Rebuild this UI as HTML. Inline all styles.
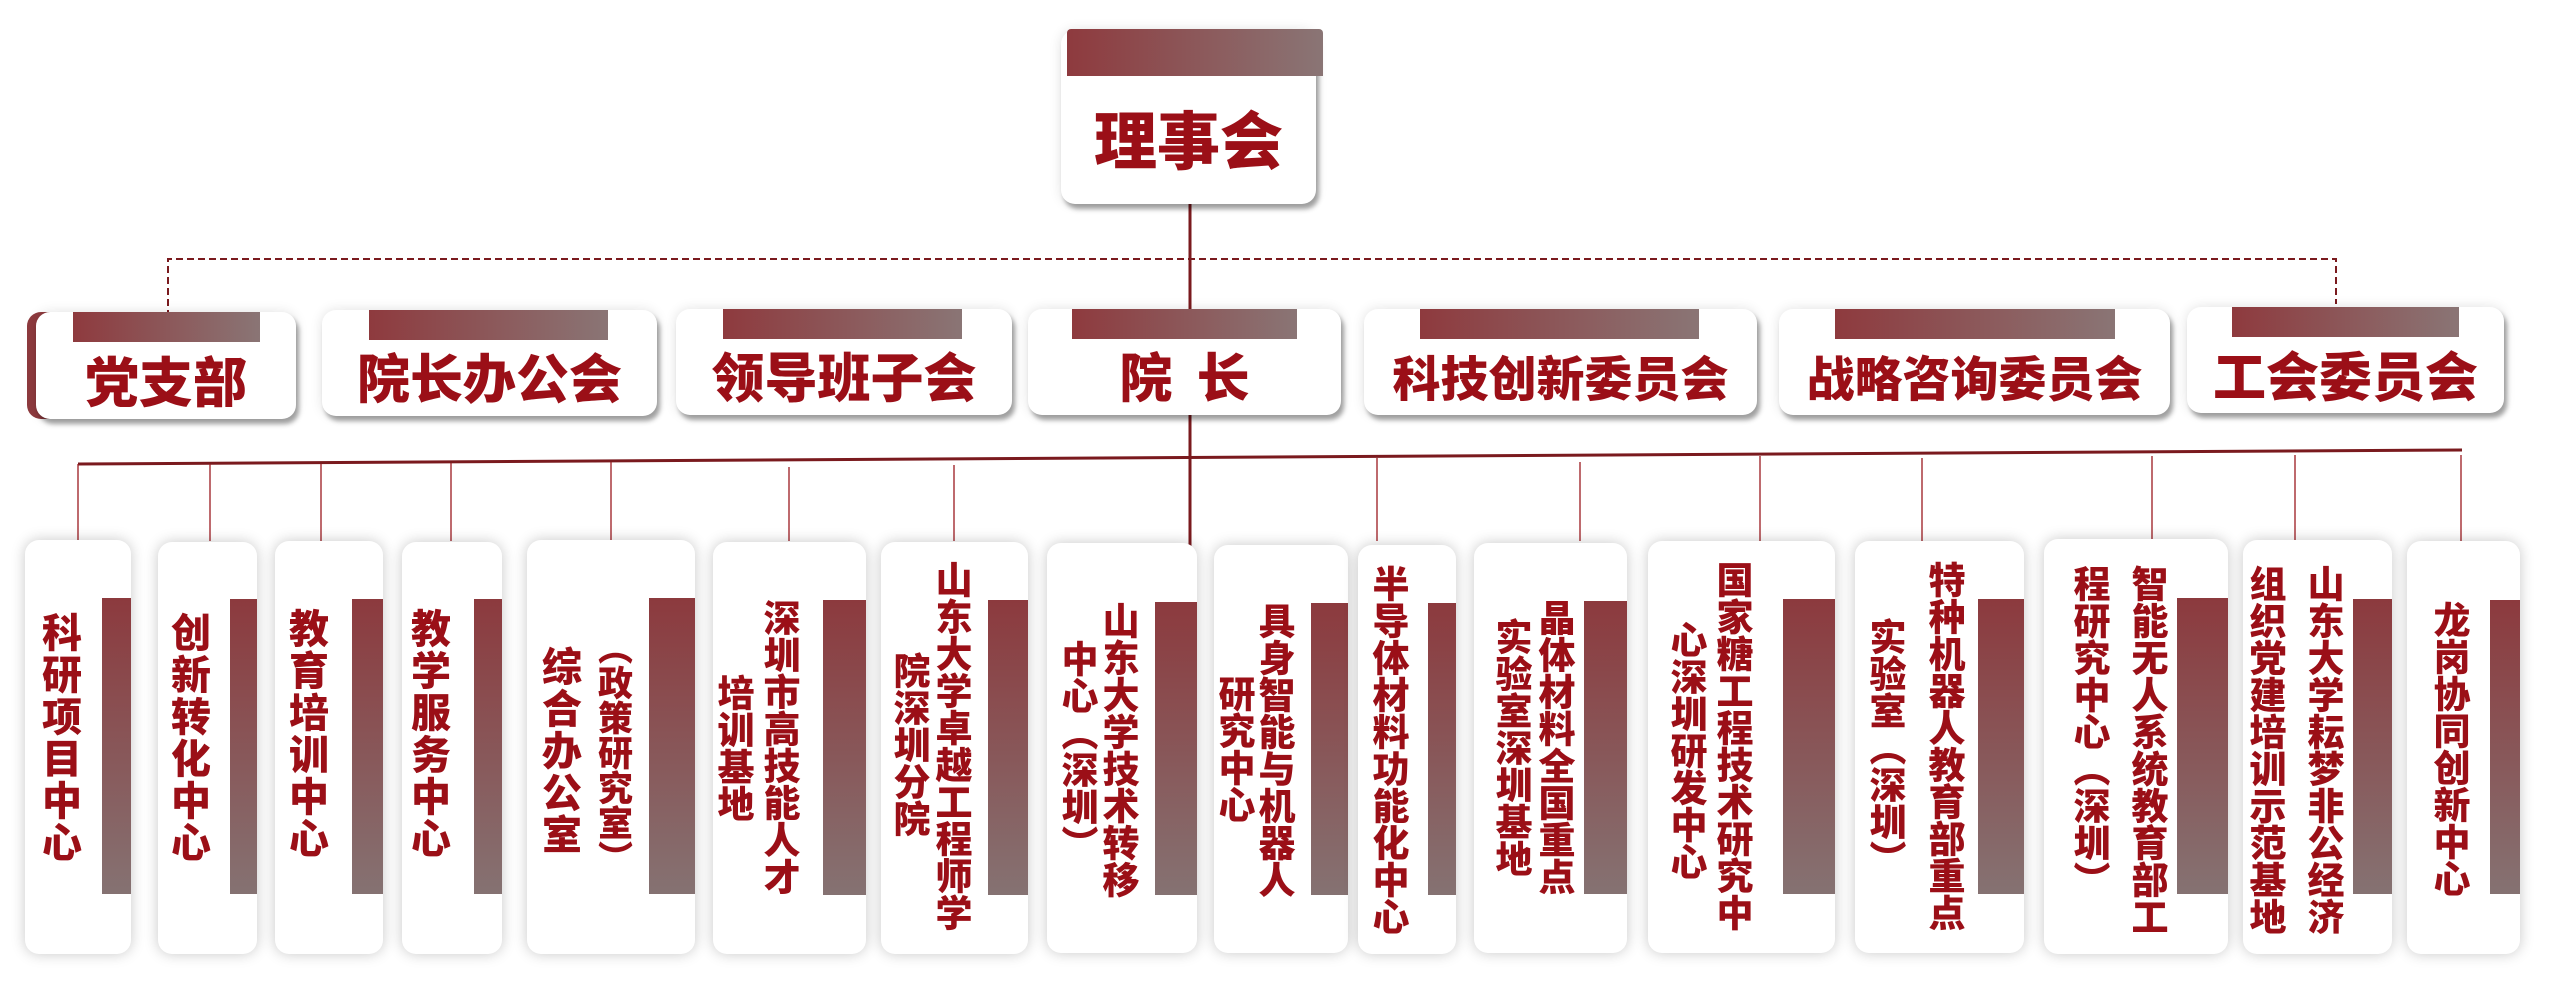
<!DOCTYPE html>
<html><head><meta charset="utf-8">
<style>
*{margin:0;padding:0;box-sizing:border-box}
body{width:2549px;height:984px;background:#fff;position:relative;overflow:hidden;font-family:"Noto Sans CJK SC","Liberation Sans",sans-serif;font-weight:900;color:#9b0f17}
.b{position:absolute;background:#fff;border-radius:14px;box-shadow:0 0 14px rgba(0,0,0,.22)}
.m{position:absolute;background:#fff;border-radius:14px;box-shadow:3px 5px 5px rgba(0,0,0,.35),0 0 12px rgba(0,0,0,.12)}
.hb{position:absolute;background:linear-gradient(90deg,#8e3a3e,#8a7575)}
.vb{position:absolute;background:linear-gradient(180deg,#8c3a3e,#857272)}
.t{position:absolute;white-space:nowrap;text-align:center;line-height:1}
.v{position:absolute;writing-mode:vertical-rl;line-height:1;white-space:nowrap;font-size:37px;width:37px}
</style></head><body>
<svg width="2549" height="984" style="position:absolute;left:0;top:0">
<line x1="1190" y1="204" x2="1190" y2="310" stroke="#7a1a1e" stroke-width="3"/>
<line x1="1190" y1="414" x2="1190" y2="546" stroke="#7a1a1e" stroke-width="3"/>
<polyline points="168,317 168,259 2336,259 2336,304" fill="none" stroke="#7a1a1e" stroke-width="2" stroke-dasharray="7,4"/>
<line x1="78" y1="464" x2="2462" y2="450" stroke="#7a1a1e" stroke-width="3"/>
<g stroke="#9b1a20" stroke-width="1.3">
<line x1="78" y1="464" x2="78" y2="541"/>
<line x1="210" y1="464" x2="210" y2="541"/>
<line x1="321" y1="464" x2="321" y2="541"/>
<line x1="451" y1="463" x2="451" y2="541"/>
<line x1="611" y1="462" x2="611" y2="541"/>
<line x1="789" y1="467" x2="789" y2="541"/>
<line x1="954" y1="465" x2="954" y2="541"/>
<line x1="1377" y1="458" x2="1377" y2="541"/>
<line x1="1580" y1="462" x2="1580" y2="541"/>
<line x1="1760" y1="456" x2="1760" y2="541"/>
<line x1="1922" y1="458" x2="1922" y2="541"/>
<line x1="2152" y1="456" x2="2152" y2="541"/>
<line x1="2295" y1="455" x2="2295" y2="541"/>
<line x1="2461" y1="455" x2="2461" y2="541"/>
</g>
</svg>

<div class="m" style="left:1061px;top:30px;width:255px;height:174px"></div>
<div class="hb" style="left:1067px;top:29px;width:256px;height:47px;border-radius:4px 4px 0 0"></div>
<div class="t" style="left:1061px;top:106px;width:255px;font-size:63px">理事会</div>

<div style="position:absolute;left:27px;top:312px;width:30px;height:107px;background:#8e3a3e;border-radius:14px 0 0 14px"></div>
<div class="m" style="left:36px;top:312px;width:260px;height:107px"></div>
<div class="hb" style="left:73px;top:312px;width:187px;height:30px"></div>
<div class="t" style="left:36px;top:352px;width:260px;font-size:54px">党支部</div>

<div class="m" style="left:322px;top:310px;width:335px;height:106px"></div>
<div class="hb" style="left:369px;top:310px;width:239px;height:30px"></div>
<div class="t" style="left:322px;top:350px;width:335px;font-size:53px">院长办公会</div>

<div class="m" style="left:676px;top:309px;width:336px;height:106px"></div>
<div class="hb" style="left:723px;top:309px;width:239px;height:30px"></div>
<div class="t" style="left:676px;top:349px;width:336px;font-size:53px">领导班子会</div>

<div class="m" style="left:1028px;top:309px;width:313px;height:106px"></div>
<div class="hb" style="left:1072px;top:309px;width:225px;height:30px"></div>
<div class="t" style="left:1028px;top:349px;width:313px;font-size:53px">院&nbsp;&nbsp;长</div>

<div class="m" style="left:1364px;top:309px;width:393px;height:106px"></div>
<div class="hb" style="left:1420px;top:309px;width:279px;height:30px"></div>
<div class="t" style="left:1364px;top:351px;width:393px;font-size:48px">科技创新委员会</div>

<div class="m" style="left:1779px;top:309px;width:391px;height:106px"></div>
<div class="hb" style="left:1835px;top:309px;width:280px;height:30px"></div>
<div class="t" style="left:1779px;top:351px;width:391px;font-size:48px">战略咨询委员会</div>

<div class="m" style="left:2187px;top:307px;width:317px;height:106px"></div>
<div class="hb" style="left:2232px;top:307px;width:227px;height:30px"></div>
<div class="t" style="left:2187px;top:348px;width:317px;font-size:53px">工会委员会</div>

<div class="b" style="left:25px;top:540px;width:106px;height:414px"></div><div class="vb" style="left:102px;top:598px;width:29px;height:296px"></div>
<div class="b" style="left:158px;top:542px;width:99px;height:412px"></div><div class="vb" style="left:230px;top:599px;width:27px;height:295px"></div>
<div class="b" style="left:275px;top:541px;width:108px;height:413px"></div><div class="vb" style="left:352px;top:599px;width:31px;height:295px"></div>
<div class="b" style="left:402px;top:542px;width:100px;height:412px"></div><div class="vb" style="left:474px;top:599px;width:28px;height:295px"></div>
<div class="b" style="left:527px;top:540px;width:168px;height:414px"></div><div class="vb" style="left:649px;top:598px;width:46px;height:296px"></div>
<div class="b" style="left:713px;top:542px;width:153px;height:412px"></div><div class="vb" style="left:823px;top:600px;width:43px;height:295px"></div>
<div class="b" style="left:881px;top:542px;width:147px;height:412px"></div><div class="vb" style="left:988px;top:600px;width:40px;height:295px"></div>
<div class="b" style="left:1047px;top:543px;width:150px;height:410px"></div><div class="vb" style="left:1155px;top:602px;width:42px;height:293px"></div>
<div class="b" style="left:1214px;top:545px;width:134px;height:408px"></div><div class="vb" style="left:1311px;top:603px;width:37px;height:292px"></div>
<div class="b" style="left:1358px;top:545px;width:98px;height:409px"></div><div class="vb" style="left:1428px;top:603px;width:28px;height:292px"></div>
<div class="b" style="left:1474px;top:543px;width:153px;height:410px"></div><div class="vb" style="left:1584px;top:601px;width:43px;height:293px"></div>
<div class="b" style="left:1648px;top:541px;width:187px;height:412px"></div><div class="vb" style="left:1783px;top:599px;width:52px;height:295px"></div>
<div class="b" style="left:1855px;top:541px;width:169px;height:412px"></div><div class="vb" style="left:1978px;top:599px;width:46px;height:295px"></div>
<div class="b" style="left:2044px;top:539px;width:184px;height:415px"></div><div class="vb" style="left:2177px;top:598px;width:51px;height:296px"></div>
<div class="b" style="left:2243px;top:540px;width:149px;height:414px"></div><div class="vb" style="left:2353px;top:599px;width:39px;height:295px"></div>
<div class="b" style="left:2407px;top:541px;width:113px;height:413px"></div><div class="vb" style="left:2490px;top:600px;width:30px;height:294px"></div>

<div class="v" style="left:42px;top:612px;font-size:40px;width:40px;letter-spacing:2px">科研项目中心</div>
<div class="v" style="left:171px;top:612px;font-size:40px;width:40px;letter-spacing:2px">创新转化中心</div>
<div class="v" style="left:289px;top:608px;font-size:40px;width:40px;letter-spacing:2px">教育培训中心</div>
<div class="v" style="left:411px;top:608px;font-size:40px;width:40px;letter-spacing:2px">教学服务中心</div>
<div class="v" style="left:542px;top:646px;font-size:40px;width:40px;letter-spacing:2px">综合办公室</div>
<div class="v" style="left:597px;top:630px;font-size:35px;width:36px">︵政策研究室︶</div>
<div class="v" style="left:763px;top:599px">深圳市高技能人才</div>
<div class="v" style="left:717px;top:674px">培训基地</div>
<div class="v" style="left:935px;top:561px">山东大学卓越工程师学</div>
<div class="v" style="left:893px;top:652px">院深圳分院</div>
<div class="v" style="left:1102px;top:602px">山东大学技术转移</div>
<div class="v" style="left:1061px;top:640px">中心︵深圳︶</div>
<div class="v" style="left:1258px;top:602px">具身智能与机器人</div>
<div class="v" style="left:1218px;top:675px">研究中心</div>
<div class="v" style="left:1372px;top:565px">半导体材料功能化中心</div>
<div class="v" style="left:1538px;top:599px">晶体材料全国重点</div>
<div class="v" style="left:1495px;top:618px">实验室深圳基地</div>
<div class="v" style="left:1716px;top:561px">国家糖工程技术研究中</div>
<div class="v" style="left:1670px;top:621px">心深圳研发中心</div>
<div class="v" style="left:1928px;top:561px">特种机器人教育部重点</div>
<div class="v" style="left:1869px;top:618px">实验室︵深圳︶</div>
<div class="v" style="left:2131px;top:565px">智能无人系统教育部工</div>
<div class="v" style="left:2073px;top:565px">程研究中心︵深圳︶</div>
<div class="v" style="left:2307px;top:565px">山东大学耘梦非公经济</div>
<div class="v" style="left:2249px;top:565px">组织党建培训示范基地</div>
<div class="v" style="left:2433px;top:601px">龙岗协同创新中心</div>
</body></html>
